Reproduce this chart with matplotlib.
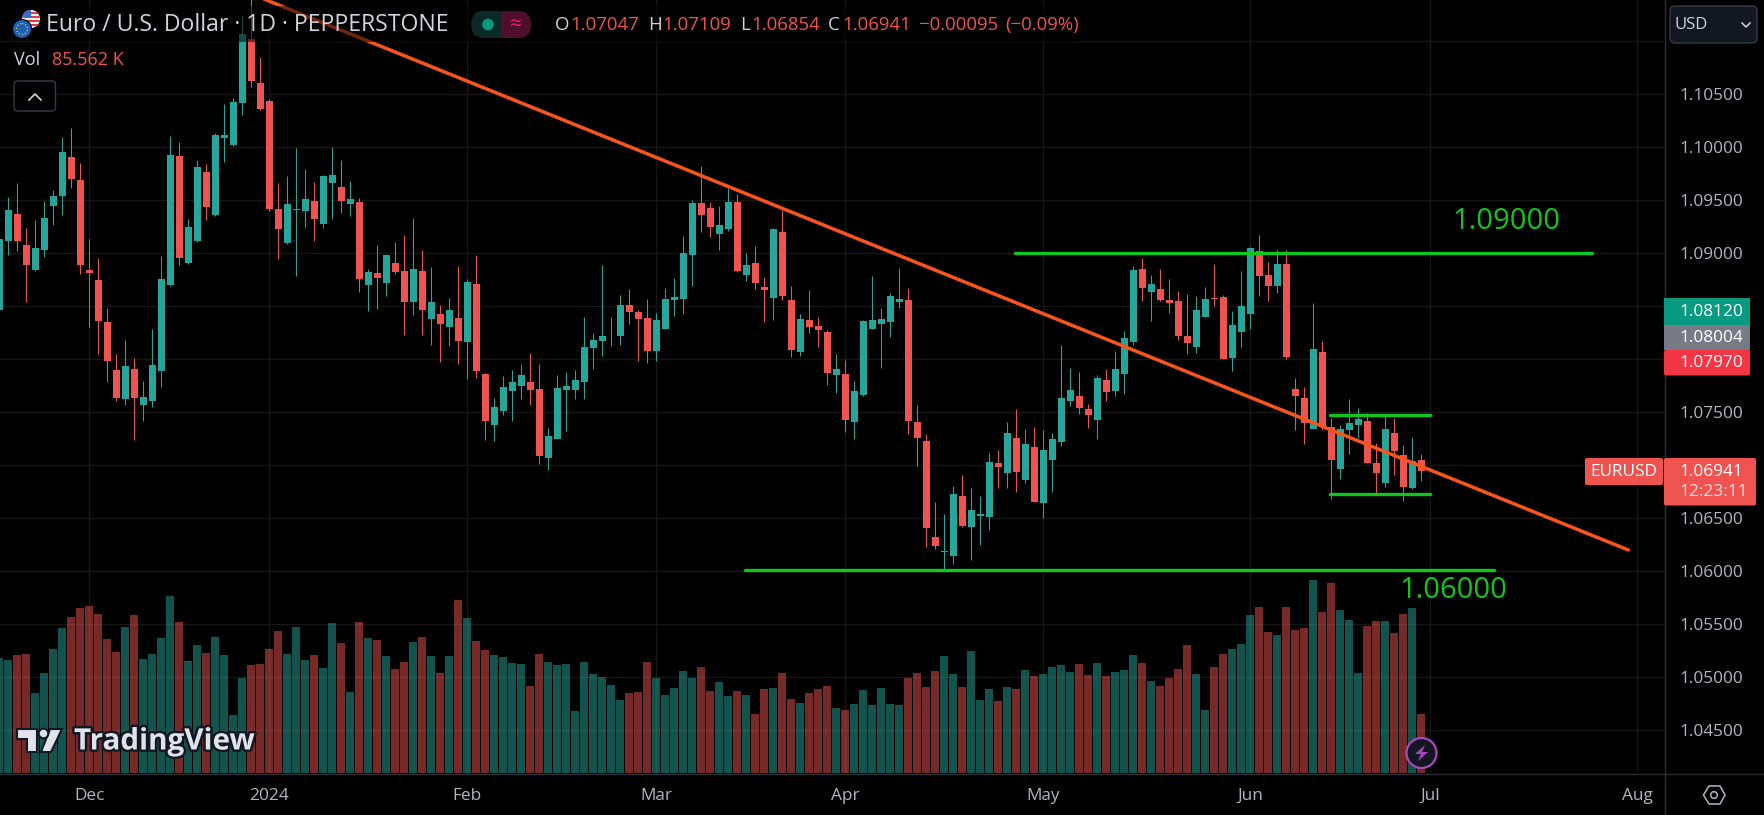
import matplotlib
matplotlib.use("Agg")
import matplotlib.pyplot as plt
import matplotlib.patheffects as pe
from matplotlib.patches import Circle, FancyBboxPatch, Polygon, Rectangle

plt.rcParams['font.family'] = ['Open Sans', 'DejaVu Sans']

# Daily candles (first one is cut by the left edge)
opens = [
    1.08465, 1.09110, 1.09371, 1.09075, 1.08836, 1.09025, 1.09440, 1.09535, 1.09909, 1.09692,
    1.08843, 1.08748, 1.08352, 1.07899, 1.07620, 1.07909, 1.07563, 1.07610, 1.07884, 1.08695,
    1.09918, 1.08903, 1.09110, 1.09767, 1.09355, 1.10082, 1.10016, 1.10412, 1.11022, 1.10607,
    1.10437, 1.09418, 1.09091, 1.09409, 1.09399, 1.09494, 1.09270, 1.09664, 1.09626, 1.09459,
    1.09484, 1.08701, 1.08815, 1.08714, 1.08909, 1.08833, 1.08535, 1.08833, 1.08381, 1.08428,
    1.08305, 1.08390, 1.08164, 1.08711, 1.07862, 1.07381, 1.07513, 1.07701, 1.07748, 1.07786,
    1.07720, 1.07069, 1.07248, 1.07711, 1.07711, 1.07786, 1.08107, 1.08173, 1.08223, 1.08214,
    1.08513, 1.08447, 1.08390, 1.08079, 1.08286, 1.08560, 1.08569, 1.08984, 1.09475, 1.09428,
    1.09182, 1.09230, 1.09484, 1.08796, 1.08909, 1.08682, 1.08579, 1.09201, 1.08560, 1.08069,
    1.08371, 1.08315, 1.08258, 1.07852, 1.07862, 1.07409, 1.07664, 1.08286, 1.08333, 1.08352,
    1.08541, 1.08560, 1.07409, 1.07230, 1.06324, 1.06182, 1.06145, 1.06711, 1.06418, 1.06522,
    1.06513, 1.07022, 1.06928, 1.07258, 1.06862, 1.07173, 1.06645, 1.07050, 1.07220, 1.07607,
    1.07654, 1.07531, 1.07428, 1.07805, 1.07701, 1.07862, 1.08164, 1.08852, 1.08635, 1.08664,
    1.08560, 1.08550, 1.08220, 1.08116, 1.08399, 1.08579, 1.08588, 1.08013, 1.08258, 1.08428,
    1.09022, 1.08796, 1.08692, 1.08899, 1.07720, 1.07635, 1.07343, 1.08069, 1.07362, 1.06965,
    1.07333, 1.07381, 1.07418, 1.07022, 1.06833, 1.07305, 1.07097, 1.06786, 1.07047,
]
highs = [
    1.09157, 1.09528, 1.09664, 1.09236, 1.09315, 1.09494, 1.09598, 1.10098, 1.10179, 1.09852,
    1.09135, 1.08956, 1.08484, 1.08050, 1.08182, 1.08013, 1.07792, 1.08283, 1.08975, 1.10107,
    1.10047, 1.09324, 1.09881, 1.09843, 1.10132, 1.10409, 1.10462, 1.11239, 1.11421, 1.10852,
    1.10456, 1.09664, 1.09730, 1.09991, 1.09796, 1.09673, 1.09739, 1.10003, 1.09881, 1.09682,
    1.09522, 1.08852, 1.09079, 1.08990, 1.09107, 1.09173, 1.09333, 1.09032, 1.08871, 1.08513,
    1.08579, 1.08881, 1.08755, 1.08984, 1.07871, 1.07635, 1.07843, 1.07899, 1.07956, 1.08060,
    1.07956, 1.07352, 1.07852, 1.07881, 1.07899, 1.08399, 1.08248, 1.08890, 1.08399, 1.08607,
    1.08664, 1.08465, 1.08569, 1.08437, 1.08673, 1.08767, 1.09164, 1.09503, 1.09824, 1.09484,
    1.09447, 1.09616, 1.09560, 1.09003, 1.09069, 1.08777, 1.09239, 1.09409, 1.08692, 1.08428,
    1.08654, 1.08399, 1.08277, 1.08050, 1.07994, 1.07796, 1.08371, 1.08780, 1.08484, 1.08623,
    1.08862, 1.08673, 1.07569, 1.07296, 1.06654, 1.06541, 1.06805, 1.06909, 1.06786, 1.06711,
    1.07116, 1.07145, 1.07409, 1.07531, 1.07343, 1.07362, 1.07333, 1.07305, 1.08135, 1.07918,
    1.07881, 1.07579, 1.07852, 1.07909, 1.08079, 1.08267, 1.08874, 1.08953, 1.08796, 1.08852,
    1.08758, 1.08645, 1.08616, 1.08591, 1.08682, 1.08899, 1.08607, 1.08456, 1.08833, 1.09055,
    1.09173, 1.08918, 1.09032, 1.09032, 1.07824, 1.07739, 1.08531, 1.08173, 1.07447, 1.07381,
    1.07626, 1.07541, 1.07494, 1.07211, 1.07465, 1.07447, 1.07192, 1.07267, 1.07109,
]
lows = [
    1.08450, 1.08984, 1.09016, 1.08535, 1.08827, 1.08959, 1.09261, 1.09355, 1.09610, 1.08805,
    1.08299, 1.08053, 1.07789, 1.07601, 1.07563, 1.07242, 1.07421, 1.07553, 1.07742, 1.08686,
    1.08890, 1.08900, 1.09105, 1.09308, 1.09350, 1.09855, 1.10010, 1.10299, 1.10563, 1.10350,
    1.09393, 1.08940, 1.09085, 1.08780, 1.09242, 1.09116, 1.09233, 1.09318, 1.09374, 1.09346,
    1.08629, 1.08456, 1.08475, 1.08598, 1.08805, 1.08223, 1.08418, 1.08223, 1.08135, 1.07969,
    1.08126, 1.07956, 1.07808, 1.07818, 1.07239, 1.07230, 1.07475, 1.07418, 1.07626, 1.07569,
    1.07013, 1.06956, 1.07245, 1.07324, 1.07626, 1.07626, 1.07909, 1.08031, 1.08126, 1.08135,
    1.08333, 1.07978, 1.07965, 1.07984, 1.08280, 1.08409, 1.08428, 1.08686, 1.09195, 1.09154,
    1.09032, 1.09211, 1.08818, 1.08739, 1.08664, 1.08352, 1.08371, 1.08560, 1.08022, 1.08031,
    1.08248, 1.08116, 1.07758, 1.07682, 1.07314, 1.07248, 1.07648, 1.08280, 1.07918, 1.08211,
    1.08484, 1.07296, 1.06994, 1.06230, 1.06211, 1.06013, 1.06069, 1.06418, 1.06107, 1.06248,
    1.06390, 1.06786, 1.06786, 1.06748, 1.06833, 1.06650, 1.06503, 1.06748, 1.07182, 1.07560,
    1.07484, 1.07352, 1.07248, 1.07607, 1.07654, 1.07673, 1.08135, 1.08550, 1.08362, 1.08550,
    1.08437, 1.08182, 1.08050, 1.08060, 1.08395, 1.08497, 1.08000, 1.07890, 1.08116, 1.08286,
    1.08598, 1.08550, 1.08626, 1.08003, 1.07333, 1.07201, 1.07340, 1.07333, 1.06682, 1.06871,
    1.07107, 1.07258, 1.07018, 1.06730, 1.06796, 1.06909, 1.06664, 1.06777, 1.06854,
]
closes = [
    1.09132, 1.09409, 1.09110, 1.08884, 1.09047, 1.09333, 1.09541, 1.09956, 1.09695, 1.08884,
    1.08808, 1.08362, 1.07978, 1.07638, 1.07937, 1.07629, 1.07645, 1.07947, 1.08758, 1.09928,
    1.08950, 1.09248, 1.09815, 1.09431, 1.10116, 1.10116, 1.10428, 1.11069, 1.10620, 1.10355,
    1.09412, 1.09223, 1.09465, 1.09418, 1.09513, 1.09318, 1.09730, 1.09739, 1.09494, 1.09513,
    1.08752, 1.08824, 1.08761, 1.08984, 1.08824, 1.08535, 1.08852, 1.08459, 1.08541, 1.08333,
    1.08465, 1.08173, 1.08730, 1.07890, 1.07418, 1.07550, 1.07739, 1.07786, 1.07852, 1.07711,
    1.07088, 1.07277, 1.07730, 1.07748, 1.07805, 1.08116, 1.08182, 1.08220, 1.08230, 1.08513,
    1.08447, 1.08381, 1.08079, 1.08371, 1.08569, 1.08588, 1.09003, 1.09475, 1.09362, 1.09248,
    1.09267, 1.09484, 1.08833, 1.08890, 1.08720, 1.08654, 1.09230, 1.08598, 1.08088, 1.08381,
    1.08305, 1.08277, 1.07871, 1.07909, 1.07428, 1.07701, 1.08362, 1.08371, 1.08381, 1.08598,
    1.08569, 1.07418, 1.07258, 1.06409, 1.06239, 1.06192, 1.06730, 1.06428, 1.06579, 1.06541,
    1.07031, 1.06984, 1.07305, 1.06937, 1.07201, 1.06654, 1.07145, 1.07248, 1.07635, 1.07711,
    1.07541, 1.07475, 1.07824, 1.07692, 1.07909, 1.08201, 1.08843, 1.08673, 1.08711, 1.08560,
    1.08531, 1.08220, 1.08154, 1.08465, 1.08569, 1.08569, 1.08003, 1.08324, 1.08503, 1.09050,
    1.08786, 1.08692, 1.08899, 1.08022, 1.07654, 1.07399, 1.08098, 1.07362, 1.07050, 1.07343,
    1.07399, 1.07437, 1.07022, 1.06928, 1.07343, 1.07135, 1.06796, 1.07041, 1.06941,
]
# Volume in thousands
volumes = [
    166.3, 163.4, 170.7, 172.1, 115.8, 144.7, 179.3, 209.6, 225.4, 238.4,
    241.3, 229.8, 193.7, 175.0, 211.0, 228.3, 164.9, 172.1, 195.2, 255.7,
    218.2, 162.0, 185.1, 173.5, 196.6, 170.7, 84.1, 137.5, 156.2, 157.7,
    179.3, 205.3, 172.1, 211.0, 163.4, 170.7, 151.9, 216.8, 188.0, 117.3,
    218.2, 195.2, 192.3, 169.2, 150.5, 160.6, 189.4, 196.6, 169.2, 144.7,
    169.2, 250.0, 224.0, 190.8, 177.9, 170.7, 167.8, 159.1, 157.7, 125.9,
    172.1, 160.6, 156.2, 157.7, 89.9, 160.6, 143.3, 138.9, 127.4, 105.8,
    115.8, 117.3, 160.6, 137.5, 113.0, 123.1, 147.6, 137.5, 153.3, 118.7,
    131.7, 111.5, 118.7, 113.0, 85.6, 121.6, 123.1, 144.7, 107.2, 101.4,
    115.8, 121.6, 125.9, 94.2, 91.3, 100.0, 120.2, 98.5, 123.1, 100.0,
    98.5, 137.5, 144.7, 124.5, 147.6, 169.2, 143.3, 124.5, 176.4, 105.8,
    121.6, 104.3, 124.5, 121.6, 149.0, 140.4, 143.3, 153.3, 156.2, 146.1,
    157.7, 141.8, 159.1, 140.4, 146.1, 149.0, 170.7, 159.1, 133.2, 125.9,
    137.5, 150.5, 185.1, 143.3, 91.3, 153.3, 172.1, 179.3, 186.5, 228.3,
    239.9, 203.8, 199.5, 239.9, 206.7, 209.6, 278.8, 232.7, 274.5, 235.5,
    221.1, 144.7, 212.5, 219.7, 219.7, 202.4, 229.8, 238.4, 85.562,
]

month_bars = [9, 29, 51, 72, 93, 115, 138, 158, 181]
month_labels = ["Dec", "2024", "Feb", "Mar", "Apr", "May", "Jun", "Jul", "Aug"]
price_ticks = [1.045, 1.05, 1.055, 1.06, 1.065, 1.07, 1.075, 1.08, 1.085, 1.09, 1.095, 1.10, 1.105, 1.11]
price_labels = ["1.04500", "1.05000", "1.05500", "1.06000", "1.06500", "", "1.07500", "", "",
                "1.09000", "1.09500", "1.10000", "1.10500", ""]

# Drawn levels: (first bar, last bar, price)
level_lines = [(111.9, 176.0, 1.0900), (81.8, 165.1, 1.0601), (146.8, 158.0, 1.07469), (146.8, 158.0, 1.06726)]
trend_x = [27.96, 180.0]
trend_y = [1.11409, 1.06201]

UP = "#26a69a"
DOWN = "#ef5350"
GRID = "#171717"
TEXT = "#b2b5be"
LEVEL = "#10c61c"

W, H = 1764, 815
fig = plt.figure(figsize=(W / 100, H / 100), dpi=100, facecolor="black")

bars = list(range(-1, len(opens) - 1))
colors = [UP if c >= o else DOWN for o, c in zip(opens, closes)]

# Price axes lie at the bottom so the grid shows through the see-through volume bars
rect = [0, (H - 773) / H, 1664 / W, 773 / H]
ax = fig.add_axes(rect, facecolor="black", zorder=1)
ax.set_xlim(-0.933, 183.96)
ax.set_ylim(1.04099, 1.11385)
ax.set_xticks(month_bars)
ax.set_xticklabels(month_labels, fontsize=12.4, color=TEXT)
ax.yaxis.tick_right()
ax.set_yticks(price_ticks)
ax.set_yticklabels(price_labels, fontsize=12.4, color=TEXT)
ax.tick_params(axis="both", length=0)
ax.tick_params(axis="x", pad=11)
ax.tick_params(axis="y", pad=11)
ax.grid(True, color=GRID, linewidth=1.0, zorder=0)
ax.set_axisbelow(True)
for s in ax.spines.values():
    s.set_visible(False)

body_low = [min(o, c) for o, c in zip(opens, closes)]
body_h = [max(abs(c - o), 0.00003) for o, c in zip(opens, closes)]
ax.vlines(bars, lows, highs, colors=colors, linewidth=0.75, zorder=3)
ax.bar(bars, body_h, bottom=body_low, width=0.78, color=colors, linewidth=0, zorder=4)

for x0, x1, lvl in level_lines:
    ax.plot([x0, x1], [lvl, lvl], color=LEVEL, linewidth=2.4, solid_capstyle="round", zorder=5)
ax.plot(trend_x, trend_y, color="#f9551a", linewidth=2.5, solid_capstyle="round", zorder=6)
ax.text(166.4, 1.09297, "1.09000", color=LEVEL, fontsize=21, ha="center", va="center", zorder=7)
ax.text(160.5, 1.05819, "1.06000", color=LEVEL, fontsize=21, ha="center", va="center", zorder=7)

# Volume on its own scale
ax_vol = fig.add_axes(rect, facecolor="none", zorder=2)
ax_vol.bar(bars, volumes, width=0.88, color=colors, alpha=0.5, linewidth=0)
ax_vol.set_ylim(0, 1115)
ax_vol.set_xlim(-0.933, 183.96)
ax_vol.axis("off")

# Everything around the chart, in pixels
ov = fig.add_axes([0, 0, 1, 1], facecolor="none", zorder=3)
ov.set_xlim(0, W)
ov.set_ylim(H, 0)
ov.axis("off")


def box(x0, y0, x1, y1, color, r=0.0, edge="none", z=10, alpha=1.0):
    if r:
        p = FancyBboxPatch((x0, y0), x1 - x0, y1 - y0, boxstyle=f"round,pad=0,rounding_size={r}",
                           facecolor=color, edgecolor=edge, linewidth=1, zorder=z, alpha=alpha)
    else:
        p = Rectangle((x0, y0), x1 - x0, y1 - y0, facecolor=color, edgecolor=edge, linewidth=0, zorder=z, alpha=alpha)
    ov.add_patch(p)
    return p


def txt(x, y, s, color, size=12.4, ha="left", **kw):
    ov.text(x, y, s, color=color, fontsize=size, ha=ha, va="center", zorder=20, **kw)


# axis borders
ov.plot([1664.5, 1664.5], [0, H], color="#2a2e39", linewidth=1, zorder=9)
ov.plot([0, W], [773.5, 773.5], color="#2a2e39", linewidth=1, zorder=9)

# legend strip dims what runs underneath
box(40, 6, 1080, 42, "black", alpha=0.55, z=8)

# flags
us = Circle((31, 19), 9, facecolor="#f4f4f4", edgecolor="none", zorder=11)
ov.add_patch(us)
for yy in (12, 16, 20, 24):
    st = Rectangle((20, yy), 22, 2, facecolor="#e53946", zorder=12)
    ov.add_patch(st)
    st.set_clip_path(us)
cant = Rectangle((20, 9), 11, 8, facecolor="#2f6fd0", zorder=13)
ov.add_patch(cant)
cant.set_clip_path(us)
ov.add_patch(Circle((22, 29), 9.5, facecolor="#1c62b8", edgecolor="black", linewidth=0.8, zorder=14))
ov.add_patch(Circle((22, 29), 5.5, facecolor="none", edgecolor="#e8c93a", linewidth=0.9, linestyle=(0, (1, 1.6)), zorder=15))

txt(46, 25, "Euro / U.S. Dollar · 1D · PEPPERSTONE", "#d1d4dc", 16.6)

# status pill
box(471.5, 11, 531, 38, "#4d0f2b", r=13)
box(471.5, 11, 501, 38, "#0b2a26", r=13, z=11)
box(490, 11, 501, 38, "#0b2a26", z=11)
ov.add_patch(Circle((488, 24.5), 5.8, facecolor="#089981", zorder=12))
txt(515.5, 24, "≈", "#e91e63", 15, ha="center")

# ohlc readout
ohlc_pieces = [(555, "O", "#d1d4dc"), (570.5, "1.07047", DOWN), (648, "H", "#d1d4dc"), (662.5, "1.07109", DOWN),
               (740, "L", "#d1d4dc"), (751, "1.06854", DOWN), (828, "C", "#d1d4dc"), (842.5, "1.06941", DOWN),
               (919.5, "−0.00095", DOWN), (1005, "(−0.09%)", DOWN)]
for px, s, c in ohlc_pieces:
    txt(px, 25, s, c, 13.4)

txt(13.5, 60, "Vol", "#d1d4dc", 13)
txt(51.5, 60, "85.562 K", DOWN, 13)

# collapse button
box(14, 81, 55.5, 111, "black", r=4, edge="#363a45")
ov.plot([29, 35, 41], [100, 94, 100], color="#d1d4dc", linewidth=1.2, zorder=12)

# currency button
box(1670, 6, 1757, 43, "#131722", r=5, edge="#363a45")
txt(1675, 25, "USD", "#d1d4dc", 12)
ov.plot([1742, 1746, 1750], [23, 27, 23], color="#d1d4dc", linewidth=1.1, zorder=12)

# price tags
box(1664, 298, 1750, 325, "#089981")
box(1664, 325, 1750, 350, "#787b86")
box(1664, 350, 1750, 375.5, "#f23645", r=2)
txt(1679, 312, "1.08120", "white")
txt(1679, 337.5, "1.08004", "white")
txt(1679, 363, "1.07970", "white")

box(1585, 458, 1663, 485, DOWN, r=2)
txt(1624, 471.5, "EURUSD", "white", ha="center")
box(1664, 458, 1756, 505.5, DOWN, r=2)
txt(1679, 472, "1.06941", "white")
txt(1679, 492.5, "12:23:11", "#fbdcdc")

# settings hexagon
ov.add_patch(Polygon([(1703.5, 795), (1709, 786), (1720, 786), (1725, 795), (1720, 804), (1709, 804)],
                     closed=True, facecolor="none", edgecolor="#b2b5be", linewidth=1.1, zorder=12))
ov.add_patch(Circle((1714, 795), 3.3, facecolor="none", edgecolor="#b2b5be", linewidth=1.1, zorder=12))

# bolt marker
ov.add_patch(Circle((1421.5, 753), 15, facecolor="#131722", edgecolor="#ab47bc", linewidth=1.6, zorder=12))
ov.add_patch(Polygon([(1425, 745), (1415, 754), (1421, 754), (1418, 761), (1428, 752), (1422, 752)],
                     closed=True, facecolor="#ab47bc", edgecolor="none", zorder=13))

# watermark
logo_fx = [pe.withStroke(linewidth=3.5, foreground="#131722")]
logo_parts = [
    Polygon([(17, 729), (37, 729), (37, 752), (27, 752), (27, 739), (17, 739)], closed=True),
    Polygon([(50, 729), (62, 729), (51, 752), (41, 752)], closed=True),
    Circle((43.5, 733.5), 4.8),
]
for part in logo_parts:
    part.set(facecolor="#e0e3eb", edgecolor="#131722", linewidth=1.5, zorder=12)
    ov.add_patch(part)
ov.text(74, 741.5, "TradingView", color="#e0e3eb", fontsize=21.3, fontweight="bold", ha="left", va="center",
        zorder=13, path_effects=logo_fx)

fig.savefig("out.png", dpi=100, facecolor="black")
